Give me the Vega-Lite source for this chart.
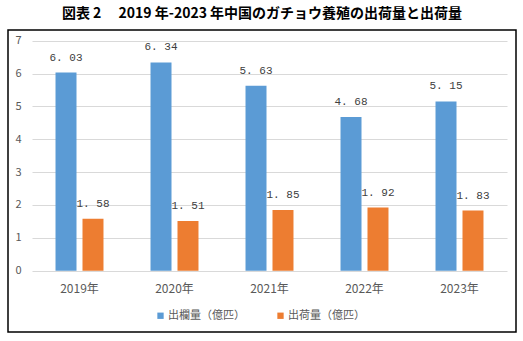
{
  "$schema": "https://vega.github.io/schema/vega-lite/v6.json",
  "width": 508,
  "height": 302,
  "autosize": {"type": "none"},
  "padding": {"left": 8, "top": 30, "right": 7, "bottom": 9},
  "background": "white",
  "title": {
    "text": "図表 2　 2019 年-2023 年中国のガチョウ養殖の出荷量と出荷量",
    "font": "Noto Sans CJK JP",
    "fontSize": 14,
    "fontWeight": "bold",
    "color": "#000000",
    "anchor": "middle",
    "offset": 9
  },
  "config": {
    "view": {"stroke": "#000000", "strokeWidth": 1.5},
    "axis": {"labelFont": "Noto Sans CJK JP", "labelColor": "#595959", "labelFontSize": 11}
  },
  "data": {
    "values": [
      {"year": "2019年", "series": "出欄量（億匹）", "value": 6.03},
      {"year": "2019年", "series": "出荷量（億匹）", "value": 1.58},
      {"year": "2020年", "series": "出欄量（億匹）", "value": 6.34},
      {"year": "2020年", "series": "出荷量（億匹）", "value": 1.51},
      {"year": "2021年", "series": "出欄量（億匹）", "value": 5.63},
      {"year": "2021年", "series": "出荷量（億匹）", "value": 1.85},
      {"year": "2022年", "series": "出欄量（億匹）", "value": 4.68},
      {"year": "2022年", "series": "出荷量（億匹）", "value": 1.92},
      {"year": "2023年", "series": "出欄量（億匹）", "value": 5.15},
      {"year": "2023年", "series": "出荷量（億匹）", "value": 1.83}
    ]
  },
  "transform": [
    {"calculate": "replace(format(datum.value, '.2f'), '.', '. ')", "as": "label"}
  ],
  "encoding": {
    "x": {
      "field": "year",
      "type": "nominal",
      "sort": null,
      "scale": {"range": [24, 499], "paddingInner": 0.495, "paddingOuter": 0.2475},
      "axis": {"title": null, "domain": false, "ticks": false, "labelAngle": 0, "labelPadding": -49, "labelBaseline": "top", "labelFontSize": 12}
    },
    "xOffset": {
      "field": "series",
      "type": "nominal",
      "sort": ["出欄量（億匹）", "出荷量（億匹）"],
      "scale": {"paddingInner": 0.222, "paddingOuter": 0}
    },
    "y": {
      "field": "value",
      "type": "quantitative",
      "scale": {"domain": [-1.866, 7.326], "nice": false, "zero": false},
      "axis": {
        "title": null,
        "values": [0, 1, 2, 3, 4, 5, 6, 7],
        "domain": false,
        "ticks": false,
        "labelPadding": -13,
        "gridColor": "#d9d9d9",
        "gridWidth": 1
      }
    }
  },
  "layer": [
    {
      "mark": {"type": "bar"},
      "encoding": {
        "y2": {"datum": 0},
        "color": {
          "field": "series",
          "type": "nominal",
          "sort": ["出欄量（億匹）", "出荷量（億匹）"],
          "scale": {"domain": ["出欄量（億匹）", "出荷量（億匹）"], "range": ["#5B9BD5", "#ED7D31"]},
          "legend": {
            "title": null,
            "orient": "none",
            "direction": "horizontal",
            "legendX": 147,
            "legendY": 280,
            "symbolType": "square",
            "symbolSize": 40,
            "symbolStrokeWidth": 0,
            "labelFont": "Noto Sans CJK JP",
            "labelFontSize": 11,
            "labelColor": "#595959",
            "columnPadding": 30,
            "labelOffset": 2
          }
        }
      }
    },
    {
      "mark": {"type": "text", "baseline": "bottom", "dy": -10, "font": "Liberation Mono", "fontSize": 11, "color": "#404040"},
      "encoding": {
        "text": {"field": "label"}
      }
    }
  ]
}
